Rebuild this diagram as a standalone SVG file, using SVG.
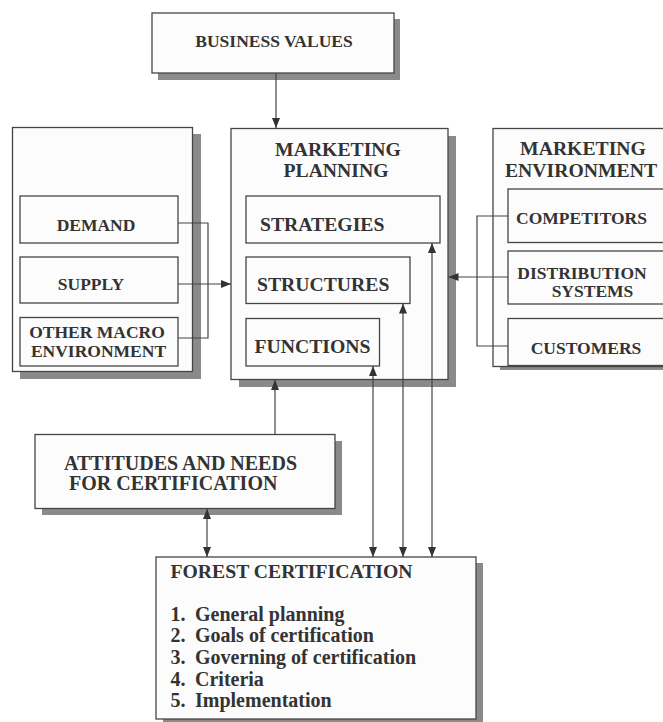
<svg xmlns="http://www.w3.org/2000/svg" width="663" height="722" viewBox="0 0 663 722">
<style>
.bg{fill:#ffffff}
.box{fill:#fcfcfc;stroke:#454545;stroke-width:1.3}
.sh{fill:#8a8a8a}
.t{font-family:"Liberation Serif","Times New Roman",serif;font-weight:bold;fill:#333333}
.h{font-size:19.7px}
.s{font-size:17.5px}
.l{font-size:20px}
.m{text-anchor:middle}
.c{fill:none;stroke:#444444;stroke-width:1.2}
</style>
<defs>
<marker id="ah" markerUnits="userSpaceOnUse" markerWidth="10" markerHeight="8" refX="10" refY="4" orient="auto-start-reverse">
<path d="M0,0 L10,4 L0,8 z" fill="#333333"/>
</marker>
</defs>
<rect class="bg" x="0" y="0" width="663" height="722"/>

<g id="business-values">
<rect class="sh" x="158" y="19" width="242" height="61"/>
<rect class="box" x="152" y="13" width="242" height="60"/>
<text class="t s m" x="274" y="46.5">BUSINESS VALUES</text>
</g>

<g id="macro-environment">
<rect class="sh" x="20" y="134" width="181" height="245"/>
<rect class="box" x="12.5" y="127.5" width="180" height="244"/>
</g>
<g id="demand">
<rect class="box" x="20" y="196" width="158" height="47"/>
<text class="t s m" x="96" y="230.5">DEMAND</text>
</g>
<g id="supply">
<rect class="box" x="20" y="257" width="158" height="46"/>
<text class="t s m" x="91" y="290">SUPPLY</text>
</g>
<g id="other-macro">
<rect class="box" x="20" y="317.5" width="158" height="48.5"/>
<text class="t s m" x="97" y="337.5">OTHER MACRO</text>
<text class="t s m" x="98.5" y="357">ENVIRONMENT</text>
</g>

<g id="marketing-planning">
<rect class="sh" x="239" y="136" width="217" height="251"/>
<rect class="box" x="231" y="128.5" width="217" height="251"/>
<text class="t h m" x="338" y="156">MARKETING</text>
<text class="t h m" x="336" y="176.7">PLANNING</text>
</g>
<g id="strategies">
<rect class="box" x="246" y="196" width="194" height="47"/>
<text class="t h" x="260" y="230.5">STRATEGIES</text>
</g>
<g id="structures">
<rect class="box" x="246" y="257" width="164" height="46.5"/>
<text class="t h" x="257" y="291">STRUCTURES</text>
</g>
<g id="functions">
<rect class="box" x="246" y="318.5" width="133.5" height="47.5"/>
<text class="t h" x="254.5" y="352.5">FUNCTIONS</text>
</g>

<g id="marketing-environment">
<rect class="sh" x="500" y="134" width="180" height="236"/>
<rect class="box" x="493" y="128.5" width="180" height="238"/>
<text class="t h m" x="583" y="155">MARKETING</text>
<text class="t h m" x="581" y="176.5">ENVIRONMENT</text>
</g>
<g id="competitors">
<rect class="box" x="508" y="189" width="165" height="53.5"/>
<text class="t s m" x="581.5" y="223.5">COMPETITORS</text>
</g>
<g id="distribution-systems">
<rect class="box" x="508" y="251" width="165" height="53"/>
<text class="t s m" x="582" y="278.5">DISTRIBUTION</text>
<text class="t s m" x="592.5" y="297">SYSTEMS</text>
</g>
<g id="customers">
<rect class="box" x="508" y="318.5" width="165" height="47"/>
<text class="t s m" x="586" y="353.5">CUSTOMERS</text>
</g>

<g id="attitudes">
<rect class="sh" x="42" y="441" width="300" height="74"/>
<rect class="box" x="35" y="434.5" width="300" height="74"/>
<text class="t l" x="64" y="469.5">ATTITUDES AND NEEDS</text>
<text class="t l" x="69" y="490">FOR CERTIFICATION</text>
</g>

<g id="forest-certification">
<rect class="sh" x="163" y="563" width="320" height="165"/>
<rect class="box" x="156" y="557" width="320" height="162"/>
<text class="t h" x="170.5" y="577.5">FOREST CERTIFICATION</text>
<text class="t l" x="170.5" y="620.5">1.<tspan x="195">General planning</tspan></text>
<text class="t l" x="170.5" y="642">2.<tspan x="195">Goals of certification</tspan></text>
<text class="t l" x="170.5" y="663.5">3.<tspan x="195">Governing of certification</tspan></text>
<text class="t l" x="170.5" y="685.5">4.<tspan x="195">Criteria</tspan></text>
<text class="t l" x="170.5" y="707">5.<tspan x="195">Implementation</tspan></text>
</g>

<g id="connectors">
<path class="c" d="M276,73 V128" marker-end="url(#ah)"/>
<path class="c" d="M178,223 H208 V338 H178"/>
<path class="c" d="M178,284 H231" marker-end="url(#ah)"/>
<path class="c" d="M508,216 H477 V346 H508"/>
<path class="c" d="M508,277 H448.5" marker-end="url(#ah)"/>
<path class="c" d="M275,434.5 V380" marker-end="url(#ah)"/>
<path class="c" d="M207,509 V557" marker-start="url(#ah)" marker-end="url(#ah)"/>
<path class="c" d="M373,366 V557" marker-start="url(#ah)" marker-end="url(#ah)"/>
<path class="c" d="M403,303.5 V557" marker-start="url(#ah)" marker-end="url(#ah)"/>
<path class="c" d="M432,243 V557" marker-start="url(#ah)" marker-end="url(#ah)"/>
</g>
</svg>
